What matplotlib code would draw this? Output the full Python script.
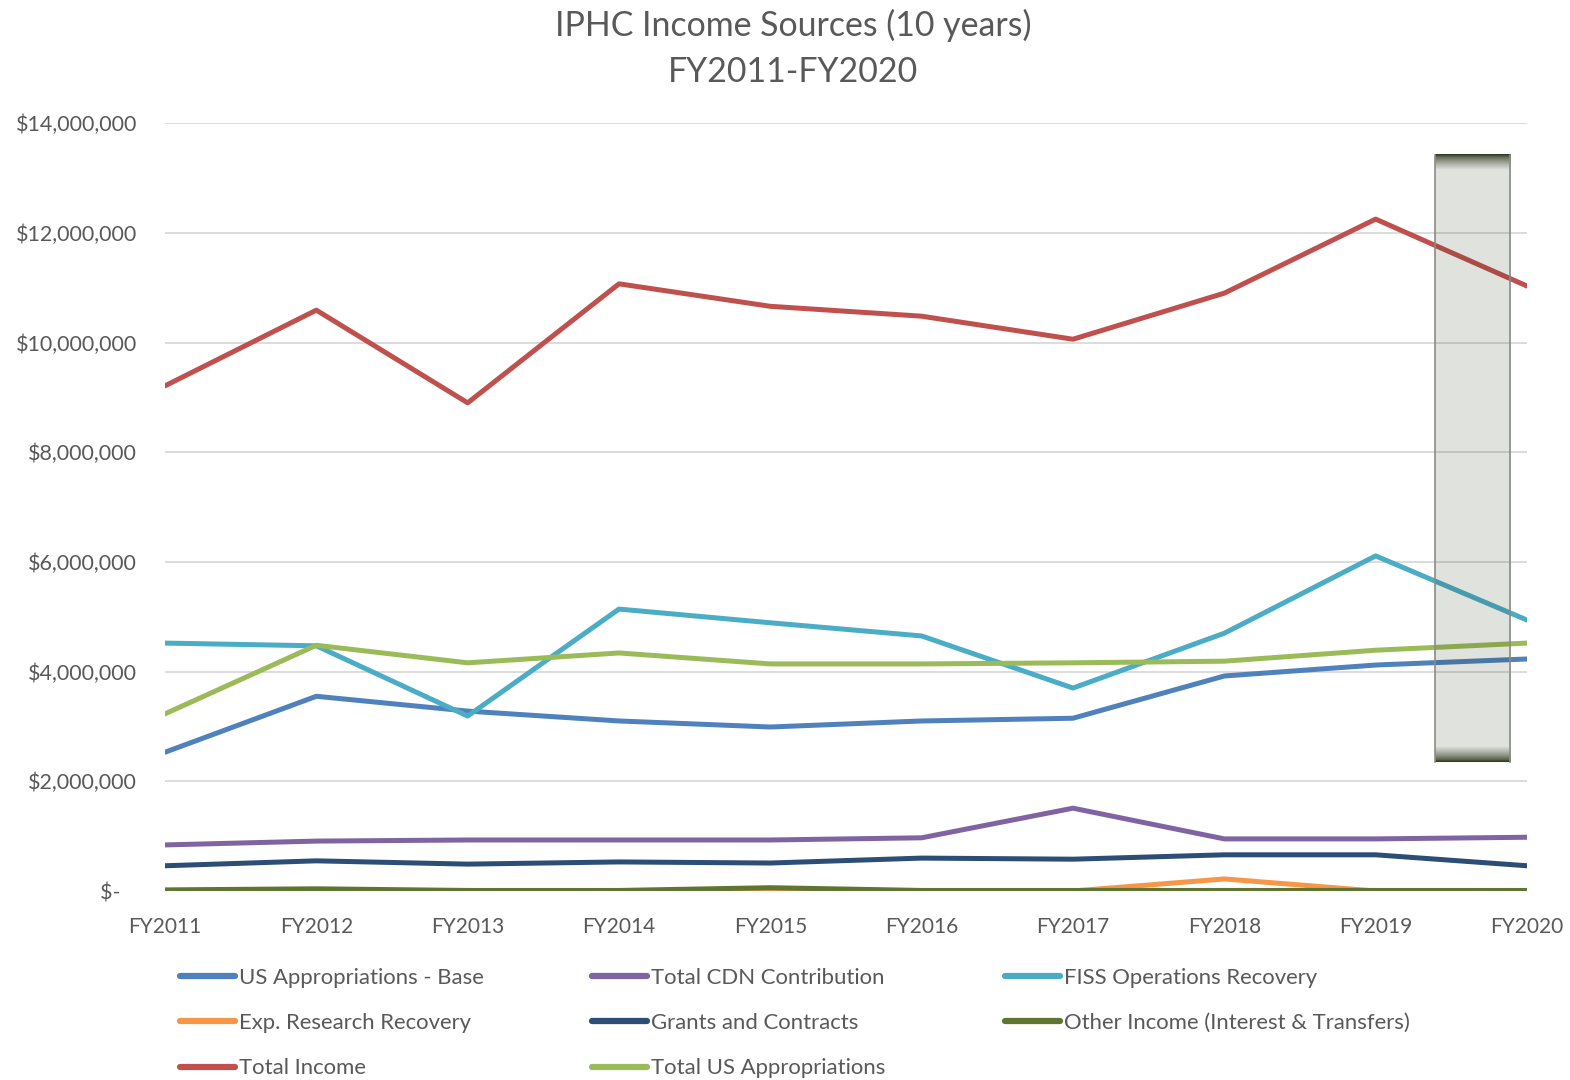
import numpy as np
import matplotlib
matplotlib.use("Agg")
import matplotlib.pyplot as plt
from matplotlib.lines import Line2D

years = ["FY2011", "FY2012", "FY2013", "FY2014", "FY2015",
         "FY2016", "FY2017", "FY2018", "FY2019", "FY2020"]

us_base = [2.53, 3.55, 3.28, 3.10, 2.99, 3.10, 3.15, 3.92, 4.12, 4.23]
cdn = [0.84, 0.91, 0.93, 0.93, 0.93, 0.97, 1.51, 0.95, 0.95, 0.98]
fiss = [4.52, 4.47, 3.19, 5.14, 4.89, 4.65, 3.70, 4.70, 6.11, 4.94]
exp_research = [0.0, 0.0, 0.0, 0.0, 0.0, 0.0, 0.0, 0.22, 0.0, 0.0]
grants = [0.46, 0.55, 0.49, 0.53, 0.51, 0.60, 0.58, 0.66, 0.66, 0.46]
other = [0.02, 0.04, 0.01, 0.01, 0.06, 0.01, 0.01, 0.01, 0.01, 0.01]
total_income = [9.21, 10.59, 8.90, 11.07, 10.66, 10.48, 10.06, 10.90, 12.25, 11.03]
total_us = [3.23, 4.48, 4.16, 4.34, 4.14, 4.14, 4.16, 4.19, 4.39, 4.52]

series = [
    ("US Appropriations - Base", us_base, "#4f81bd"),
    ("Total CDN Contribution", cdn, "#8064a2"),
    ("FISS Operations Recovery", fiss, "#4bacc6"),
    ("Exp. Research Recovery", exp_research, "#f79646"),
    ("Grants and Contracts", grants, "#2c4d75"),
    ("Other Income (Interest & Transfers)", other, "#5f7530"),
    ("Total Income", total_income, "#c0504d"),
    ("Total US Appropriations", total_us, "#9bbb59"),
]

yticks = [0, 2, 4, 6, 8, 10, 12, 14]
ytick_labels = ["$-   ", "$2,000,000", "$4,000,000", "$6,000,000", "$8,000,000",
                "$10,000,000", "$12,000,000", "$14,000,000"]

# highlight box (in data units: x index, y millions)
box_x0, box_x1 = 8.39, 8.89
box_y0, box_y1 = 2.35, 13.42

plt.rcParams['font.family'] = ['Lato', 'DejaVu Sans']
text_color = "#595959"

fig = plt.figure(figsize=(15.7, 10.8), dpi=100)
ax = fig.add_axes([0.1051, 0.175, 0.8675, 0.711])

x = np.arange(len(years))
for name, vals, col in series:
    ax.plot(x, np.array(vals) * 1e6, color=col, lw=3.6,
            solid_capstyle='round', solid_joinstyle='round', label=name, zorder=3)

# gradient box
N = 400
prof = np.full(N, 0.15)
band = 10
for i in range(band):
    a = 1.0 - (1.0 - 0.15) * (i / band) ** 0.7
    prof[i] = a
    prof[N - 1 - i] = a
rgba = np.zeros((N, 1, 4))
rgba[:, 0, 0] = 0.20
rgba[:, 0, 1] = 0.24
rgba[:, 0, 2] = 0.13
rgba[:, 0, 3] = prof
ax.imshow(rgba, extent=(box_x0, box_x1, box_y0 * 1e6, box_y1 * 1e6),
          aspect='auto', zorder=5, interpolation='bilinear')
ax.plot([box_x0, box_x0], [box_y0 * 1e6, box_y1 * 1e6], color="#8b8d83", lw=1.2, zorder=6)
ax.plot([box_x1, box_x1], [box_y0 * 1e6, box_y1 * 1e6], color="#8b8d83", lw=1.2, zorder=6)

ax.set_xlim(0, len(years) - 1)
ax.set_ylim(0, 14e6)
ax.set_yticks([v * 1e6 for v in yticks])
ax.set_yticklabels(ytick_labels)
ax.set_xticks(x)
ax.set_xticklabels(years)
ax.tick_params(axis='y', length=0, labelsize=15.5, colors=text_color, pad=20)
ax.tick_params(axis='x', length=0, labelsize=15, colors=text_color, pad=19)
ax.grid(axis='y', color="#d9d9d9", lw=1.3, zorder=0)
ax.set_axisbelow(True)
for s in ax.spines.values():
    s.set_visible(False)

fig.text(0.505, 0.992, "IPHC Income Sources (10 years)\nFY2011-FY2020", ha='center', va='top',
         fontsize=24.4, color=text_color, linespacing=1.55)

columns = [[0, 3, 6], [1, 4, 7], [2, 5]]
col_x = [180 / 1570, 592 / 1570, 1005 / 1570]
for idxs, cx in zip(columns, col_x):
    hs = [Line2D([0], [0], color=series[i][2], lw=4.5, solid_capstyle='round') for i in idxs]
    ls = [series[i][0] for i in idxs]
    leg = fig.legend(hs, ls, loc='upper left', bbox_to_anchor=(cx, 0.1037),
                     frameon=False, fontsize=15.9, handlelength=2.5,
                     handletextpad=0.15, labelspacing=1.14, borderpad=0,
                     borderaxespad=0)
    for t in leg.get_texts():
        t.set_color(text_color)

fig.savefig("out.png", dpi=100)
